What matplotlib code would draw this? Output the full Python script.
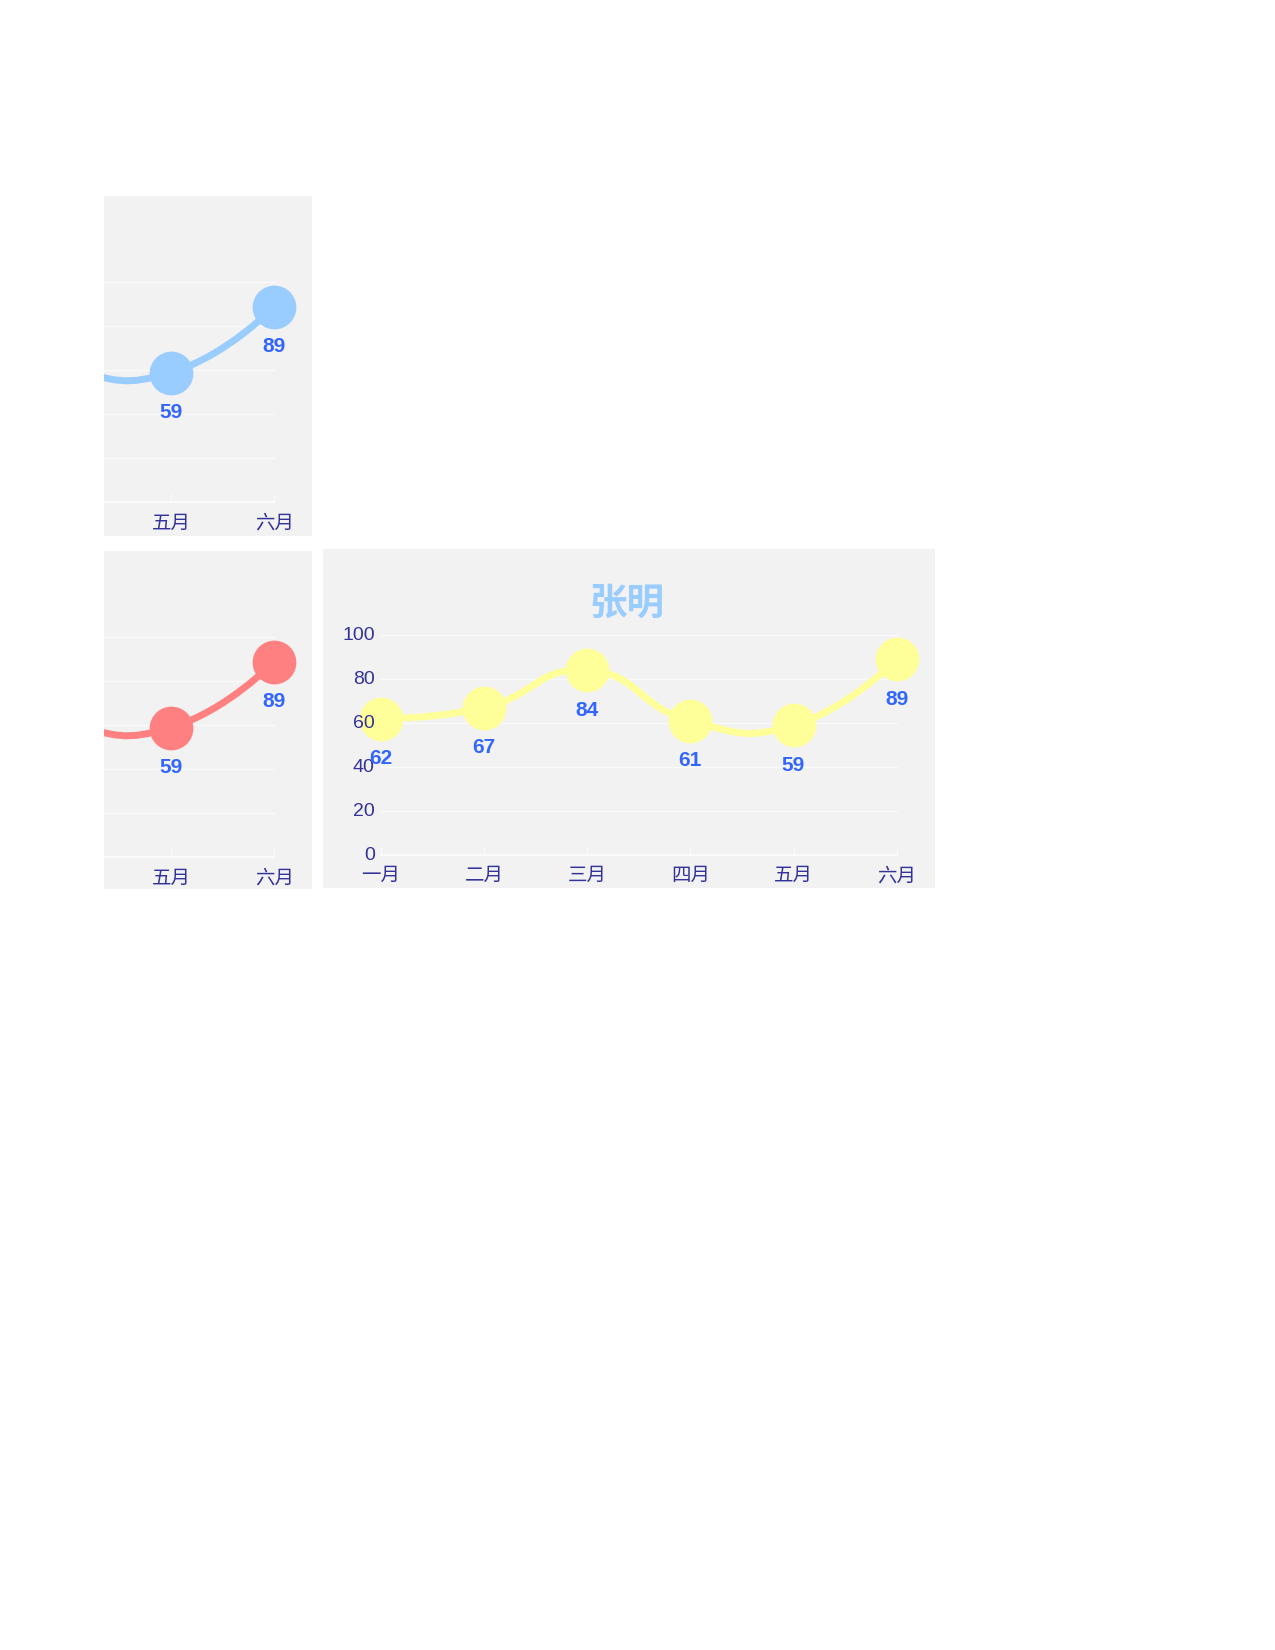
import numpy as np
import matplotlib
matplotlib.use("Agg")
import matplotlib.pyplot as plt
from matplotlib.path import Path
from matplotlib.patches import PathPatch

plt.rcParams['font.family'] = ['Liberation Sans', 'Noto Sans CJK SC', 'DejaVu Sans']

# data
months = ['一月', '二月', '三月', '四月', '五月', '六月']
scores = [62, 67, 84, 61, 59, 89]
y_ticks = [0, 20, 40, 60, 80, 100]
title = '张明'

W, H = 1275, 1650
STEP = 103.2   # px per category
YS = 2.2       # px per score unit

fig = plt.figure(figsize=(W / 100, H / 100), dpi=100)
fig.patch.set_facecolor('white')


def smooth_path(xs, ys, smooth=0.5):
    # echarts style bezier smoothing, done in pixel space
    px = np.asarray(xs, float) * STEP
    py = np.asarray(ys, float) * YS
    n = len(px)
    verts = [(px[0], py[0])]
    codes = [Path.MOVETO]
    cp0 = (px[0], py[0])
    for i in range(1, n):
        if i == n - 1:
            cp1 = (px[i], py[i])
            nxt = None
        else:
            vx = px[i + 1] - px[i - 1]
            vy = py[i + 1] - py[i - 1]
            d0 = np.hypot(px[i] - px[i - 1], py[i] - py[i - 1])
            d1 = np.hypot(px[i + 1] - px[i], py[i + 1] - py[i])
            r = d1 / (d0 + d1)
            cp1 = (px[i] - vx * smooth * (1 - r), py[i] - vy * smooth * (1 - r))
            nxt = (px[i] + vx * smooth * r, py[i] + vy * smooth * r)
        verts += [cp0, cp1, (px[i], py[i])]
        codes += [Path.CURVE4] * 3
        cp0 = nxt
    verts = np.array(verts)
    verts[:, 0] /= STEP
    verts[:, 1] /= YS
    return Path(verts, codes)


def draw_chart(box, x_last, y_zero, color, show_title):
    # the small panels show only the right part of the same chart (clipped)
    x0, y0, x1, y1 = box
    ax = fig.add_axes([x0 / W, 1 - y1 / H, (x1 - x0) / W, (y1 - y0) / H])
    n = len(months) - 1
    ax.set_xlim(n - (x_last - x0) / STEP, n + (x1 - x_last) / STEP)
    ax.set_ylim(-(y1 - y_zero) / YS, (y_zero - y0) / YS)
    ax.axis('off')
    ax.add_patch(plt.Rectangle((0, 0), 1, 1, transform=ax.transAxes,
                               facecolor='#f2f2f2', edgecolor='none', zorder=0))

    # grid, axis line, ticks
    for t in y_ticks[1:]:
        ax.plot([0, n], [t, t], color='#fafafa', lw=1, zorder=1)
    ax.plot([0, n], [0, 0], color='#fbfbfb', lw=1.6, zorder=1)
    for i in range(len(months)):
        ax.plot([i, i], [0, 8 / YS], color='#fbfbfb', lw=0.8, zorder=1)

    # series
    ax.add_patch(PathPatch(smooth_path(range(len(scores)), scores),
                           facecolor='none', edgecolor=color, lw=5, zorder=2,
                           capstyle='round'))
    ax.plot(range(len(scores)), scores, 'o', ms=31.5, color=color,
            markeredgewidth=0, zorder=3)

    # axis labels
    for t in y_ticks:
        ax.text(-6 / STEP, t, str(t), ha='right', va='center', fontsize=14,
                color='#333399', zorder=4, clip_on=True)
    for i, m in enumerate(months):
        ax.text(i, -21.7 / YS, m, ha='center', va='center', fontsize=14,
                color='#333399', zorder=4, clip_on=True)

    # value labels
    for i, v in enumerate(scores):
        ax.annotate(str(v), (i, v), xytext=(0, -40 * 0.72), textcoords='offset points',
                    ha='center', va='center', fontsize=15, fontweight='bold',
                    color='#3366ff', zorder=5, annotation_clip=False, clip_on=True)

    ax.text(0.497, 0.835, title, transform=ax.transAxes, ha='center', va='center',
            fontsize=27, fontweight='bold', color='#99ccff', zorder=5,
            visible=show_title)
    return ax


draw_chart((104, 195.7, 311.7, 535.7), 274.3, 502.3, '#99ccff', False)
draw_chart((104, 550.7, 311.7, 889.3), 274.3, 857.3, '#ff8080', False)
draw_chart((322.7, 549, 935, 888.3), 896.7, 855, '#ffff99', True)

fig.savefig('out.png', dpi=100, facecolor=fig.get_facecolor())
